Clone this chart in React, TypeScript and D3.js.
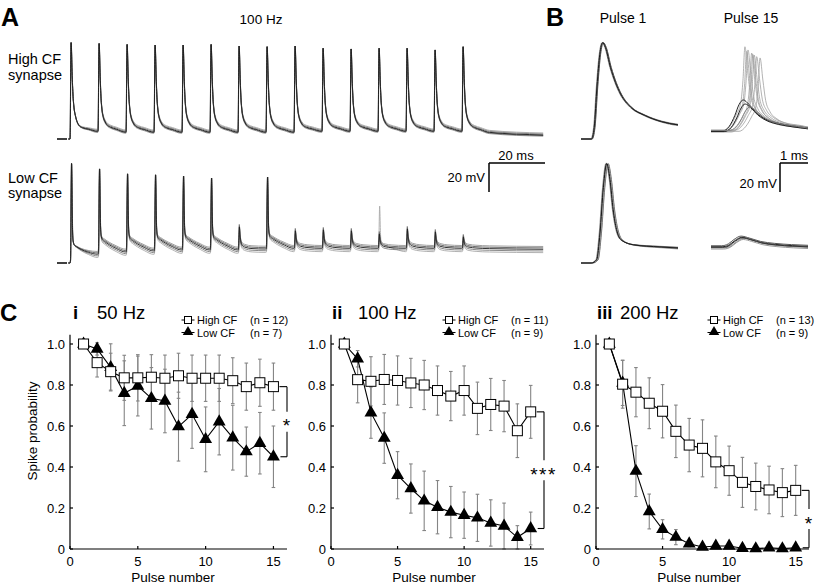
import React from "react";
import * as d3 from "d3";

type Pt = [number, number];

const FONT = "'Liberation Sans', Arial, Helvetica, sans-serif";

// ---- A / B : 100 Hz train, membrane potential in mV above rest ----
const stimTimes = [0, 10, 20, 30, 40, 50, 60, 70, 80, 90, 100, 110, 120, 130, 140]; // ms
const recordEnd = 169; // ms

const highPeaks = [68.6, 68.2, 67.5, 67.1, 67.1, 67.5, 66.4, 65.9, 66.4, 64.8, 64.3, 64.8, 64.8, 63.6, 65.9];
const highPre = [0, 5.7, 5.0, 5.0, 5.0, 5.0, 5.0, 5.0, 5.0, 5.7, 5.7, 5.7, 5.7, 5.7, 5.7];
const highEnd = 2.9;

const lowPeaks = [70.7, 67.1, 63.6, 62.9, 62.1, 60.7, 25.7, 61.4, 22.9, 23.6, 22.9, 20.7, 24.3, 22.1, 18.6];
const lowSpiked = [1, 1, 1, 1, 1, 1, 0, 1, 0, 0, 0, 0, 0, 0, 0];
const lowPre = [0, 6.4, 7.9, 8.6, 9.3, 9.3, 9.3, 10, 10.5, 10.5, 10.5, 10.5, 10.5, 10.5, 10.5];
const lowEnd = 9.8;
const lowStray = { pulse: 12, peak: 40.7 }; // one grey sweep fires late

// spike / epsp shapes: [ms after stimulus, fraction of amplitude]
const spikeHigh: Pt[] = [[0, 0], [0.1, 0.12], [0.2, 0.55], [0.3, 0.88], [0.4, 1], [0.5, 0.95], [0.68, 0.74], [0.86, 0.58], [1.04, 0.46], [1.4, 0.32], [1.9, 0.23], [2.5, 0.16], [3.1, 0.12], [4.5, 0.08], [6.5, 0.05], [9.8, 0]];
const spikeHighTrain: Pt[] = [[0, 0], [0.1, 0.12], [0.2, 0.55], [0.3, 0.88], [0.4, 1], [0.5, 0.95], [0.68, 0.72], [0.86, 0.54], [1.04, 0.4], [1.4, 0.25], [1.9, 0.16], [2.5, 0.11], [3.1, 0.08], [4.5, 0.05], [6.5, 0.03], [9.8, 0]];
const spikeLow: Pt[] = [[0, 0], [0.19, 0.03], [0.31, 0.3], [0.43, 0.76], [0.55, 1], [0.665, 0.84], [0.78, 0.53], [0.9, 0.33], [1.08, 0.22], [1.5, 0.17], [2.45, 0.14], [4, 0.1], [6.5, 0.05], [9.8, 0]];
const epspLow: Pt[] = [[0, 0], [0.2, 0.08], [0.35, 0.55], [0.5, 1], [0.7, 0.62], [1.0, 0.36], [1.5, 0.2], [2.5, 0.11], [5, 0.04], [9.8, 0]];

// overlaid sweeps
const highSweepShift = [1.4, -0.9, 0.7, -0.4, 0];
const highSweepJitter = [0.02, -0.02, 0.01, 0.03, 0];
const highSweepColor = ["#a4a4a4", "#8e8e8e", "#777", "#555", "#1c1c1c"];
const lowSweepShift = [-2.4, 2.0, -1.2, 1.0, 0];
const lowSweepJitter = [0.04, -0.03, 0.05, -0.01, 0];
const lowSweepColor = ["#a8a8a8", "#959595", "#7a7a7a", "#5e5e5e", "#1c1c1c"];

// B, pulse 15 (ms after stimulus 15)
const spikeP15: Pt[] = [[-0.75, 0], [-0.5, 0.07], [-0.3, 0.2], [-0.15, 0.33], [-0.07, 0.6], [0, 1], [0.1, 0.7], [0.2, 0.42], [0.35, 0.27], [0.6, 0.17], [1.0, 0.1], [1.6, 0.06], [2.6, 0.04]];
const humpP15: Pt[] = [[-0.75, 0], [-0.5, 0.15], [-0.3, 0.5], [-0.15, 0.85], [0, 1], [0.2, 0.86], [0.45, 0.6], [0.8, 0.38], [1.2, 0.26], [1.7, 0.17], [2.4, 0.1]];
const lowHumpP15: Pt[] = [[-0.7, 0], [-0.45, 0.2], [-0.25, 0.65], [0, 1], [0.3, 0.8], [0.7, 0.45], [1.2, 0.25], [1.8, 0.12], [2.4, 0.05]];

const highP15Pre = [5.9, 5.4, 6.2, 5.7, 5.0, 6.0, 6.4, 5.5];
const highP15SpikeTimes = [0.84, 0.9, 0.95, 1.08, 1.12, 1.17, 1.26, 1.38];
const highP15SpikePeaks = [65.9, 62.5, 63.6, 61.4, 60.5, 60.0, 58.8, 57.9];
const highP15HumpTimes = [0.78, 0.85, 1.02];
const highP15HumpPeaks = [27.9, 25.0, 22.9];
const highP15HumpPre = [5.7, 5.3, 6.1];

const lowP15HumpTimes = [0.73, 0.7, 0.8, 0.78, 0.75];
const lowP15HumpPeaks = [18.3, 19.2, 17.6, 16.8, 18.0];
const lowP15Pre = [11.6, 12.3, 10.8, 10.0, 11.2];
const lowP15Color = ["#1c1c1c", "#555", "#888", "#9a9a9a", "#333"];

// ---- C : spike probability ----
const pulseNumbers = [1, 2, 3, 4, 5, 6, 7, 8, 9, 10, 11, 12, 13, 14, 15];
const hi50 = [1.0, 0.909, 0.865, 0.835, 0.835, 0.838, 0.833, 0.845, 0.833, 0.833, 0.833, 0.821, 0.792, 0.811, 0.792];
const hi50Err = [0, 0.07, 0.09, 0.11, 0.113, 0.11, 0.113, 0.11, 0.113, 0.113, 0.113, 0.112, 0.115, 0.115, 0.115];
const lo50 = [1.0, 0.976, 0.886, 0.76, 0.795, 0.735, 0.722, 0.597, 0.657, 0.535, 0.621, 0.543, 0.475, 0.516, 0.45];
const lo50Err = [0, 0.03, 0.115, 0.158, 0.146, 0.15, 0.155, 0.168, 0.166, 0.158, 0.162, 0.158, 0.12, 0.15, 0.15];
const hi100 = [1.0, 0.826, 0.818, 0.827, 0.822, 0.81, 0.8, 0.773, 0.746, 0.773, 0.686, 0.705, 0.697, 0.577, 0.669];
const hi100Err = [0, 0.113, 0.12, 0.122, 0.12, 0.12, 0.12, 0.12, 0.12, 0.12, 0.128, 0.127, 0.125, 0.131, 0.129];
const lo100 = [1.0, 0.928, 0.665, 0.541, 0.36, 0.295, 0.235, 0.204, 0.18, 0.165, 0.152, 0.127, 0.112, 0.057, 0.1];
const lo100Err = [0, 0.04, 0.125, 0.123, 0.115, 0.12, 0.145, 0.13, 0.125, 0.113, 0.115, 0.113, 0.112, 0.057, 0.08];
const hi200 = [1.0, 0.804, 0.765, 0.711, 0.672, 0.574, 0.507, 0.491, 0.425, 0.382, 0.325, 0.305, 0.288, 0.275, 0.286];
const hi200Err = [0, 0.117, 0.12, 0.124, 0.13, 0.128, 0.13, 0.139, 0.126, 0.12, 0.122, 0.114, 0.116, 0.117, 0.122];
const lo200 = [1.0, 0.81, 0.38, 0.183, 0.096, 0.058, 0.026, 0.01, 0.015, 0.015, 0.004, 0.002, 0.006, 0.002, 0.006];
const lo200Err = [0, 0.11, 0.124, 0.085, 0.047, 0.037, 0.015, 0.005, 0.005, 0.005, 0, 0, 0, 0, 0];

const yTicks = [0, 0.2, 0.4, 0.6, 0.8, 1.0];
const yTickLabels = ["0", "0.2", "0.4", "0.6", "0.8", "1.0"];
const xTicks = [0, 5, 10, 15];

function buildTrain(pre: number[], peaks: number[], shapes: Pt[][], spiked: number[], endLevel: number, shift: number, jitter: number, stray?: { pulse: number; peak: number }): Pt[] {
  const pts: Pt[] = [[-0.6, 0]];
  const n = stimTimes.length;
  for (let i = 0; i < n; i++) {
    const ts = stimTimes[i] + jitter;
    const p0 = i === 0 ? pre[0] : pre[i] + shift;
    const nextT = i < n - 1 ? stimTimes[i + 1] + jitter : recordEnd;
    const p1 = i < n - 1 ? pre[i + 1] + shift : endLevel + shift;
    let shape = shapes[i];
    let peak = peaks[i] + (spiked[i] ? 0 : shift);
    if (stray && stray.pulse === i + 1) {
      shape = spikeLow;
      peak = stray.peak;
    }
    const span = nextT - ts;
    shape.forEach(([dt, f]) => {
      if (ts + dt >= nextT) return;
      const base = p0 + (p1 - p0) * (dt / span);
      pts.push([ts + dt, base + (peak - p0) * f]);
    });
  }
  pts.push([recordEnd, endLevel + shift]);
  return pts;
}

function clip(pts: Pt[], a: number, b: number): Pt[] {
  const out: Pt[] = [];
  for (let k = 0; k < pts.length - 1; k++) {
    const [t1, v1] = pts[k];
    const [t2, v2] = pts[k + 1];
    if (t2 < a || t1 > b) continue;
    const lerp = (t: number) => v1 + ((v2 - v1) * (t - t1)) / (t2 - t1);
    out.push(t1 >= a ? [t1, v1] : [a, lerp(a)]);
    if (t2 >= b) {
      out.push([b, lerp(b)]);
      break;
    }
  }
  return out;
}

function buildWindow(pre: number, tmpl: Pt[], tPeak: number, peak: number): Pt[] {
  const pts: Pt[] = [[-0.37, pre]];
  let last = pre;
  tmpl.forEach(([dt, f]) => {
    const t = tPeak + dt;
    last = pre + (peak - pre) * f;
    if (t > -0.37 && t < 3.09) pts.push([t, last]);
  });
  pts.push([3.09, last]);
  return pts;
}

const Trace = ({ pts, x, y, color, width = 0.9 }: any) => {
  const line = d3
    .line<Pt>()
    .x((d) => x(d[0]))
    .y((d) => y(d[1]))
    .curve(d3.curveMonotoneX);
  return <path d={line(pts) || ""} fill="none" stroke={color} strokeWidth={width} strokeLinejoin="round" />;
};

const highShapes = stimTimes.map((_, i) => (i === 0 ? spikeHigh : spikeHighTrain));
const lowShapes = stimTimes.map((_, i) => (lowSpiked[i] ? spikeLow : epspLow));
const allSpiked = stimTimes.map(() => 1);

const RateChart = ({ c }: any) => {
  const xs = d3.scaleLinear().domain([0, 16]).range([c.x0, c.x1]);
  const ys = d3.scaleLinear().domain([0, 1]).range([549, 344]);
  const sq = 10;
  const tri = d3.symbol().type(d3.symbolTriangle).size(72)() || "";
  const triSmall = d3.symbol().type(d3.symbolTriangle).size(48)() || "";
  const line = (vals: number[]) =>
    d3
      .line<number>()
      .x((_, i) => xs(pulseNumbers[i]))
      .y((d) => ys(d))(vals) || "";
  const errBars = (vals: number[], errs: number[], key: string) =>
    vals.map((v, i) => {
      if (!errs[i]) return null;
      const px = xs(pulseNumbers[i]);
      const top = ys(Math.min(1.04, v + errs[i]));
      const bot = ys(Math.max(0, v - errs[i]));
      return (
        <g key={key + i} stroke="#858585" strokeWidth={1.1}>
          <line x1={px} x2={px} y1={top} y2={bot} />
          <line x1={px - 1.8} x2={px + 1.8} y1={top} y2={top} />
          <line x1={px - 1.8} x2={px + 1.8} y1={bot} y2={bot} />
        </g>
      );
    });
  const hiEnd = ys(c.hi[14]);
  const loEnd = ys(c.lo[14]);
  const mid = (hiEnd + loEnd) / 2;
  const bx = c.x1;
  const lx = c.x0 + 118;
  return (
    <g>
      {/* title */}
      <text x={c.x0 + c.numX} y={319} fontSize={18.5} fontWeight="bold">
        {c.numeral}
      </text>
      <text x={c.rateX} y={319} fontSize={18.5}>
        {c.rate}
      </text>
      {/* legend */}
      <g fontSize={11}>
        <line x1={lx - 6.5} x2={lx + 6.5} y1={320} y2={320} stroke="#000" strokeWidth={1} />
        <rect x={lx - 3.5} y={316.5} width={7} height={7} fill="#fff" stroke="#000" strokeWidth={1} />
        <text x={lx + 9} y={324}>High CF</text>
        <text x={lx + 62} y={324}>{c.nHigh}</text>
        <line x1={lx - 6.5} x2={lx + 6.5} y1={332.5} y2={332.5} stroke="#000" strokeWidth={1} />
        <path d={triSmall} transform={`translate(${lx},${332})`} fill="#000" />
        <text x={lx + 9} y={336.5}>Low CF</text>
        <text x={lx + 62} y={336.5}>{c.nLow}</text>
      </g>
      {errBars(c.hi, c.hiErr, "h")}
      {errBars(c.lo, c.loErr, "l")}
      <path d={line(c.lo)} fill="none" stroke="#000" strokeWidth={1.1} />
      <path d={line(c.hi)} fill="none" stroke="#000" strokeWidth={1.1} />
      {c.lo.map((v: number, i: number) => (
        <path key={"t" + i} d={tri} transform={`translate(${xs(pulseNumbers[i])},${ys(v)})`} fill="#000" />
      ))}
      {c.hi.map((v: number, i: number) => (
        <rect key={"s" + i} x={xs(pulseNumbers[i]) - sq / 2} y={ys(v) - sq / 2} width={sq} height={sq} fill="#fff" stroke="#000" strokeWidth={1} />
      ))}
      {/* axes */}
      <g stroke="#000" strokeWidth={1.2}>
        <line x1={c.x0} x2={c.x0} y1={ys(0)} y2={ys(1.045)} />
        <line x1={c.x0} x2={c.x1} y1={ys(0)} y2={ys(0)} />
        {yTicks.map((t) => (
          <line key={"yt" + t} x1={c.x0} x2={c.x0 + 3} y1={ys(t)} y2={ys(t)} />
        ))}
        {xTicks.map((t) => (
          <line key={"xt" + t} x1={xs(t)} x2={xs(t)} y1={ys(0)} y2={ys(0) - 3} />
        ))}
      </g>
      <g fontSize={13} textAnchor="end">
        {yTicks.map((t, i) => (
          <text key={"yl" + t} x={c.x0 - 5} y={ys(t) + 4.6}>
            {yTickLabels[i]}
          </text>
        ))}
      </g>
      <g fontSize={13} textAnchor="middle">
        {xTicks.map((t) => (
          <text key={"xl" + t} x={xs(t)} y={565.5}>
            {t}
          </text>
        ))}
      </g>
      <text x={c.x0 + 103} y={582} fontSize={13.5} textAnchor="middle">
        Pulse number
      </text>
      {c.yLabel && (
        <text transform={`translate(37,431) rotate(-90)`} fontSize={13.5} textAnchor="middle">
          Spike probability
        </text>
      )}
      {/* significance bracket */}
      <g stroke="#000" strokeWidth={1.1} fill="none">
        <line x1={xs(15) + 6} x2={bx} y1={hiEnd} y2={hiEnd} />
        <line x1={xs(15) + 7} x2={bx} y1={loEnd} y2={loEnd} />
        <line x1={bx} x2={bx} y1={hiEnd} y2={mid - 10} />
        <line x1={bx} x2={bx} y1={mid + 10} y2={loEnd} />
      </g>
      <text x={bx - 0.5} y={mid + 10.5} fontSize={19} textAnchor="middle" letterSpacing={c.stars.length > 1 ? 1.5 : 0}>
        {c.stars}
      </text>
    </g>
  );
};

const charts = [
  { x0: 70, x1: 287, numX: 3, rateX: 97, numeral: "i", rate: "50 Hz", hi: hi50, hiErr: hi50Err, lo: lo50, loErr: lo50Err, nHigh: "(n = 12)", nLow: "(n = 7)", stars: "*", yLabel: true },
  { x0: 331, x1: 544, numX: 1, rateX: 358, numeral: "ii", rate: "100 Hz", hi: hi100, hiErr: hi100Err, lo: lo100, loErr: lo100Err, nHigh: "(n = 11)", nLow: "(n = 9)", stars: "***", yLabel: false },
  { x0: 596, x1: 809, numX: 1, rateX: 620, numeral: "iii", rate: "200 Hz", hi: hi200, hiErr: hi200Err, lo: lo200, loErr: lo200Err, nHigh: "(n = 13)", nLow: "(n = 9)", stars: "*", yLabel: false },
];

export default function App() {
  const xA = d3.scaleLinear().domain([0, 170]).range([70, 546]);
  const yHigh = d3.scaleLinear().domain([0, 70]).range([139, 41]);
  const yLow = d3.scaleLinear().domain([0, 70]).range([263, 165]);
  const xB1 = d3.scaleLinear().domain([-0.37, 3.09]).range([581, 678]);
  const xB15 = d3.scaleLinear().domain([-0.37, 3.09]).range([711, 808]);

  const highSweeps = highSweepShift.map((s, k) => buildTrain(highPre, highPeaks, highShapes, allSpiked, highEnd, s, highSweepJitter[k]));
  const lowSweeps = lowSweepShift.map((s, k) => buildTrain(lowPre, lowPeaks, lowShapes, lowSpiked, lowEnd, s, lowSweepJitter[k], k === 0 ? lowStray : undefined));

  return (
    <svg width={820} height={585} style={{ position: "absolute", left: 0, top: 0, background: "#fff" }} fontFamily={FONT} fill="#000">
      <rect width={820} height={585} fill="#fff" />
      {/* panel letters */}
      <text x={1} y={26} fontSize={25} fontWeight="bold">A</text>
      <text x={546} y={26} fontSize={25} fontWeight="bold">B</text>
      <text x={0} y={321} fontSize={24} fontWeight="bold">C</text>

      {/* A */}
      <text x={261} y={24} fontSize={13.5} textAnchor="middle">100 Hz</text>
      <text x={8} y={64} fontSize={14.5}>High CF</text>
      <text x={8} y={80} fontSize={14.5}>synapse</text>
      <text x={8} y={183} fontSize={14.5}>Low CF</text>
      <text x={8} y={198} fontSize={14.5}>synapse</text>
      <line x1={57} x2={67} y1={yHigh(0)} y2={yHigh(0)} stroke="#000" strokeWidth={1.5} />
      <line x1={57} x2={67} y1={yLow(0)} y2={yLow(0)} stroke="#000" strokeWidth={1.5} />
      {highSweeps.map((p, k) => (
        <Trace key={"ha" + k} pts={p} x={xA} y={yHigh} color={highSweepColor[k]} />
      ))}
      {lowSweeps.map((p, k) => (
        <Trace key={"la" + k} pts={p} x={xA} y={yLow} color={lowSweepColor[k]} />
      ))}
      {/* A scale bar */}
      <g stroke="#000" strokeWidth={1.5} fill="none">
        <line x1={489} x2={545} y1={163} y2={163} />
        <line x1={489} x2={489} y1={163} y2={192} />
      </g>
      <text x={516} y={160} fontSize={13} textAnchor="middle">20 ms</text>
      <text x={485} y={182} fontSize={13} textAnchor="end">20 mV</text>

      {/* B */}
      <text x={623} y={23} fontSize={14} textAnchor="middle">Pulse 1</text>
      <text x={751} y={23} fontSize={14} textAnchor="middle">Pulse 15</text>
      {highSweeps.map((p, k) => (
        <Trace key={"hb1" + k} pts={clip(p, -0.37, 3.09)} x={xB1} y={yHigh} color={highSweepColor[k]} width={1} />
      ))}
      {lowSweeps.map((p, k) => (
        <Trace key={"lb1" + k} pts={clip(p, -0.37, 3.09)} x={xB1} y={yLow} color={lowSweepColor[k]} width={1} />
      ))}
      {highP15SpikeTimes.map((t, k) => (
        <Trace key={"hs" + k} pts={buildWindow(highP15Pre[k], spikeP15, t, highP15SpikePeaks[k])} x={xB15} y={yHigh} color="#a0a0a0" width={0.8} />
      ))}
      {highP15HumpTimes.map((t, k) => (
        <Trace key={"hh" + k} pts={buildWindow(highP15HumpPre[k], humpP15, t, highP15HumpPeaks[k])} x={xB15} y={yHigh} color={k === 2 ? "#808080" : "#222"} width={1} />
      ))}
      {lowP15HumpTimes.map((t, k) => (
        <Trace key={"lh" + k} pts={buildWindow(lowP15Pre[k], lowHumpP15, t, lowP15HumpPeaks[k])} x={xB15} y={yLow} color={lowP15Color[k]} width={1} />
      ))}
      {/* B scale bar */}
      <g stroke="#000" strokeWidth={1.5} fill="none">
        <line x1={780} x2={808} y1={163} y2={163} />
        <line x1={780} x2={780} y1={163} y2={192} />
      </g>
      <text x={794} y={160} fontSize={13} textAnchor="middle">1 ms</text>
      <text x={777} y={188} fontSize={13} textAnchor="end">20 mV</text>

      {/* C */}
      {charts.map((c) => (
        <RateChart key={c.numeral} c={c} />
      ))}
    </svg>
  );
}
